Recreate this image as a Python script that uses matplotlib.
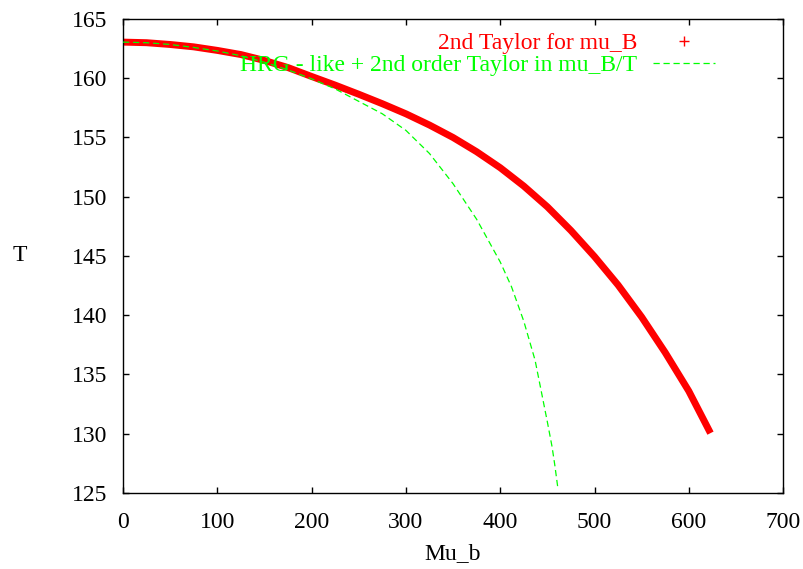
import matplotlib
matplotlib.use('Agg')
import matplotlib.pyplot as plt
from matplotlib.lines import Line2D

# 2nd order Taylor expansion in mu_B
mu_taylor = [0, 25, 50, 75, 100, 125, 150, 175, 200, 225, 250, 275, 300, 325,
             350, 375, 400, 425, 450, 475, 500, 525, 550, 575, 600, 623]
t_taylor = [163.05, 163.0, 162.85, 162.65, 162.35, 162.0, 161.5, 160.9, 160.15,
            159.42, 158.65, 157.85, 157.0, 156.05, 155.0, 153.8, 152.45, 150.9,
            149.15, 147.15, 144.95, 142.55, 139.85, 136.85, 133.6, 130.05]

# HRG-like + 2nd order Taylor in mu_B/T
mu_hrg = [0, 25, 50, 75, 100, 125, 150, 175, 200, 225, 250, 275, 300, 325, 350,
          375, 400, 412, 425, 437, 445, 450, 455, 458, 461]
t_hrg = [163.05, 163.0, 162.85, 162.6, 162.3, 161.9, 161.35, 160.7, 159.95,
         159.1, 158.05, 157.0, 155.6, 153.65, 151.1, 148.1, 144.5, 142.4, 139.5,
         136.2, 133.0, 131.0, 128.9, 127.3, 125.5]

xticks = [0, 100, 200, 300, 400, 500, 600, 700]
yticks = [125, 130, 135, 140, 145, 150, 155, 160, 165]

plt.rcParams['font.family'] = ['Liberation Serif', 'DejaVu Serif']
plt.rcParams['font.size'] = 17

fig = plt.figure(figsize=(8.04, 5.69), dpi=100)
ax = fig.add_axes([0.153, 0.1336, 0.821, 0.833])

ax.plot(mu_taylor, t_taylor, color='red', linewidth=5, solid_capstyle='butt',
        zorder=2)
ax.plot(mu_hrg, t_hrg, color='#00ff00', linewidth=0.9, linestyle=(0, (5, 3)),
        zorder=3)

ax.set_xlim(0, 700)
ax.set_ylim(125, 165)
ax.set_xticks(xticks)
ax.set_yticks(yticks)
ax.tick_params(direction='in', length=4.5, width=1, top=True, right=True, pad=11)
ax.tick_params(axis='x', pad=14)
for sp in ax.spines.values():
    sp.set_linewidth(1)

ax.set_xlabel('Mu_b', labelpad=7)
ax.set_ylabel('T', rotation=0, va='center', ha='center')
ax.yaxis.set_label_coords(-0.156, 0.5)

# legend: gnuplot style, text right-justified, sample on the right
h1 = Line2D([], [], color='red', marker='+', linestyle='none', markersize=7,
            markeredgewidth=1)
h2 = Line2D([], [], color='#00ff00', linewidth=0.9, linestyle=(0, (5, 3)))
leg = ax.legend([h1, h2], ['2nd Taylor for mu_B', 'HRG - like + 2nd order Taylor in mu_B/T'],
                loc='upper right', bbox_to_anchor=(0.897, 0.971), frameon=False,
                markerfirst=False, borderpad=0, borderaxespad=0, labelspacing=0,
                handlelength=2.63, handletextpad=0.68)
for txt, c in zip(leg.get_texts(), ['red', '#00ff00']):
    txt.set_color(c)

fig.savefig('out.png', dpi=100)
